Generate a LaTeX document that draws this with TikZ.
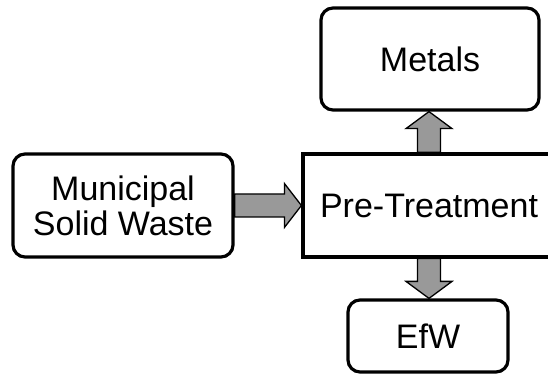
\documentclass[tikz,border=0pt]{standalone}
\usepackage{fontspec}
\setmainfont{Liberation Sans}
\usetikzlibrary{calc}
\definecolor{arrowgray}{rgb}{0.60,0.60,0.60}
\tikzset{
  caja/.style={
    rounded corners=12pt,
    draw=black,
    line width=3.2pt,
    fill=white,
    align=center,
    inner sep=0pt,
    font=\fontsize{34}{35}\selectfont
  },
  proceso/.style={
    caja,
    sharp corners
  },
  flecha/.style={
    draw=black,
    line width=1.3pt,
    fill=arrowgray,
    line join=miter
  }
}
\begin{document}
\begin{tikzpicture}[x=1pt,y=1pt]
\useasboundingbox (0,0) rectangle (548,377);
\node[caja, minimum width=220pt, minimum height=103pt] (msw) at (123,171.5) {Municipal\\Solid Waste};
\node[proceso, minimum width=252pt, minimum height=103pt] (pt) at (429,171.5) {Pre-Treatment};
\node[caja, minimum width=218pt, minimum height=102pt] (metals) at (430,318) {Metals};
\node[caja, minimum width=160pt, minimum height=72pt] (efw) at (428,41) {EfW};
% MSW -> pre-treatment
\draw[flecha] ($(msw.east)+(0,11.5)$) -- ($(pt.west)+(-17,11.5)$) -- ($(pt.west)+(-17,22)$)
  -- (pt.west) -- ($(pt.west)+(-17,-22)$) -- ($(pt.west)+(-17,-11.5)$) -- ($(msw.east)+(0,-11.5)$) -- cycle;
% pre-treatment -> metals
\draw[flecha] ($(pt.north)+(-11.5,0)$) -- ($(pt.north|-metals.south)+(-11.5,-17)$) -- ($(pt.north|-metals.south)+(-23,-17)$)
  -- (pt.north|-metals.south) -- ($(pt.north|-metals.south)+(23,-17)$) -- ($(pt.north|-metals.south)+(11.5,-17)$) -- ($(pt.north)+(11.5,0)$) -- cycle;
% pre-treatment -> EfW
\draw[flecha] ($(pt.south)+(-11.5,0)$) -- ($(pt.south|-efw.north)+(-11.5,17)$) -- ($(pt.south|-efw.north)+(-23,17)$)
  -- (pt.south|-efw.north) -- ($(pt.south|-efw.north)+(23,17)$) -- ($(pt.south|-efw.north)+(11.5,17)$) -- ($(pt.south)+(11.5,0)$) -- cycle;
\end{tikzpicture}
\end{document}
